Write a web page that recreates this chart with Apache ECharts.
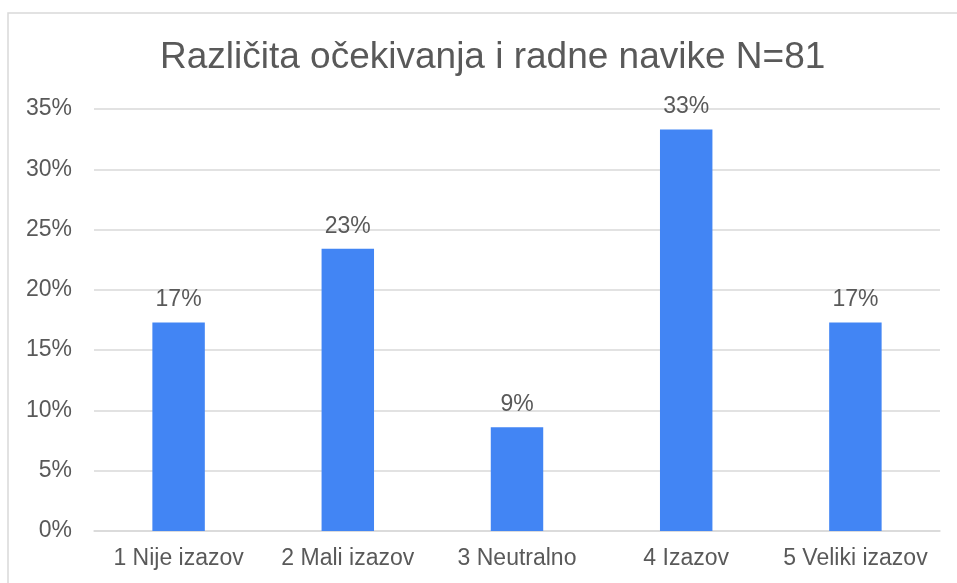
<!DOCTYPE html>
<html>
<head>
<meta charset="utf-8">
<script src="https://cdn.jsdelivr.net/npm/echarts@6/dist/echarts.min.js"></script>
<style>
  html, body { margin: 0; padding: 0; background: #fff; }
  #chart { width: 957px; height: 583px; }
</style>
</head>
<body>
<div id="chart"></div>
<script>
// podaci
const categories = ['1 Nije izazov', '2 Mali izazov', '3 Neutralno', '4 Izazov', '5 Veliki izazov']
const percentages = [17.3, 23.4, 8.6, 33.3, 17.3]
const yTicks = { min: 0, max: 35, step: 5 }
const titleText = 'Različita očekivanja i radne navike N=81'

const font = '"Liberation Sans", Arial, sans-serif'
const textColor = '#595959'

const chart = echarts.init(document.getElementById('chart'))
const option = {
  animation: false,
  textStyle: { fontFamily: font },
  title: {
    text: titleText,
    left: 155,
    top: 34,
    textStyle: { fontFamily: font, fontSize: 37, fontWeight: 'normal', color: textColor }
  },
  graphic: [
    {
      type: 'rect',
      shape: { x: 8, y: 13, width: 1000, height: 600 },
      style: { fill: 'none', stroke: '#d9d9d9', lineWidth: 1.5 },
      silent: true
    }
  ],
  grid: { left: 94, right: 17, top: 109, bottom: 52, containLabel: false },
  xAxis: {
    type: 'category',
    data: categories,
    axisLine: { lineStyle: { color: '#d9d9d9', width: 1.5 } },
    axisTick: { show: false },
    axisLabel: { color: textColor, fontSize: 23, margin: 16, fontFamily: font, interval: 0 }
  },
  yAxis: {
    type: 'value',
    min: yTicks.min,
    max: yTicks.max,
    interval: yTicks.step,
    axisLine: { show: false },
    axisTick: { show: false },
    splitLine: { lineStyle: { color: '#d9d9d9', width: 1.5 } },
    axisLabel: { color: textColor, fontSize: 23, margin: 22, fontFamily: font, formatter: '{value}%' }
  },
  series: [
    {
      type: 'bar',
      data: percentages,
      barWidth: '31%',
      itemStyle: { color: '#4285F4' },
      label: {
        show: true,
        position: 'top',
        distance: 11,
        color: textColor,
        fontSize: 23,
        fontFamily: font,
        formatter: p => Math.round(p.value) + '%'
      }
    }
  ]
}
chart.setOption(option)
window.addEventListener('resize', function () {
  chart.resize()
})
</script>
</body>
</html>
